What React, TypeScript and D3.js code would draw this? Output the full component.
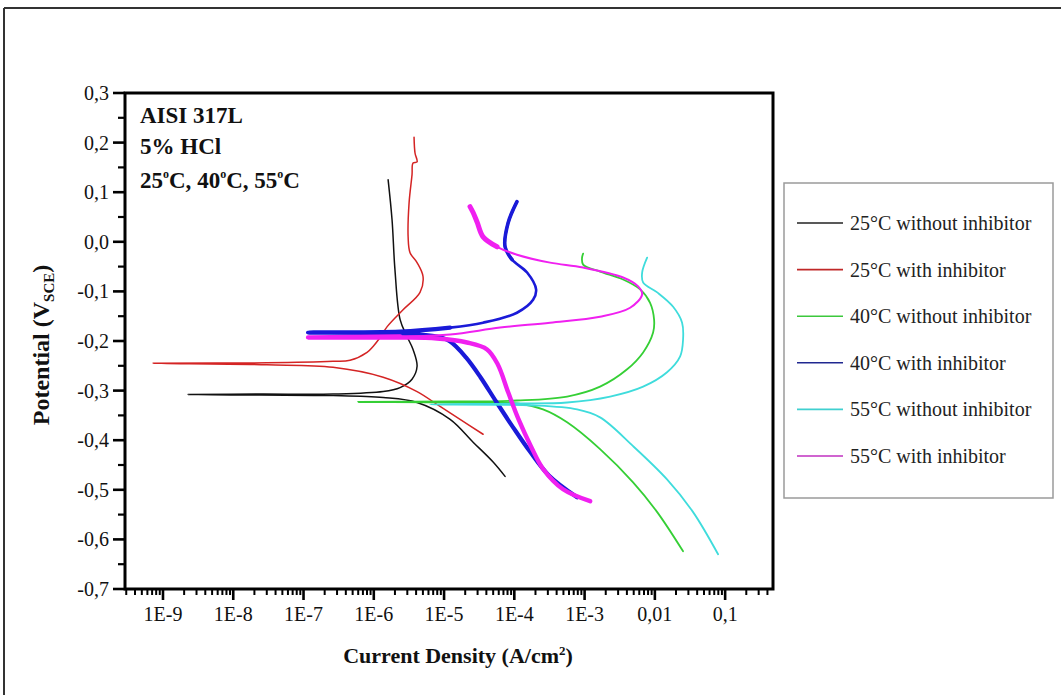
import React from 'react';
import * as d3 from 'd3';

// ---------- axis values ----------
const xDomain: [number, number] = [2.88e-10, 0.48];
const yDomain: [number, number] = [-0.7, 0.3];
const xTickValues = [1e-9, 1e-8, 1e-7, 1e-6, 1e-5, 1e-4, 1e-3, 1e-2, 1e-1];
const xTickLabels = ['1E-9', '1E-8', '1E-7', '1E-6', '1E-5', '1E-4', '1E-3', '0,01', '0,1'];
const yTickValues = [0.3, 0.2, 0.1, 0.0, -0.1, -0.2, -0.3, -0.4, -0.5, -0.6, -0.7];
const yTickLabels = ['0,3', '0,2', '0,1', '0,0', '-0,1', '-0,2', '-0,3', '-0,4', '-0,5', '-0,6', '-0,7'];
const yMinorValues = [0.25, 0.15, 0.05, -0.05, -0.15, -0.25, -0.35, -0.45, -0.55, -0.65];

// ---------- series (current density A/cm2, potential V) ----------
const black25: [number, number][] = [
  [7.38e-5, -0.473], [4.99e-5, -0.444], [2.59e-5, -0.404], [1.22e-5, -0.358], [4.13e-6, -0.324],
  [1.36e-6, -0.314], [2.63e-7, -0.31], [2.4e-8, -0.309], [2.27e-9, -0.308],
  [2.4e-8, -0.307], [2.63e-7, -0.307], [1.36e-6, -0.302], [2.37e-6, -0.294], [3.5e-6, -0.277],
  [4.13e-6, -0.251], [3.62e-6, -0.217], [2.97e-6, -0.191], [2.37e-6, -0.157], [2.0e-6, -0.056],
  [1.82e-6, 0.044], [1.6e-6, 0.125],
];
const red25: [number, number][] = [
  [3.59e-5, -0.388], [1.69e-5, -0.358], [8.77e-6, -0.332], [4.13e-6, -0.302], [1.36e-6, -0.273],
  [2.63e-7, -0.253], [3.02e-8, -0.248], [7.21e-10, -0.245],
  [3.02e-8, -0.244], [2.63e-7, -0.241], [4.59e-7, -0.239], [8.02e-7, -0.223], [9.77e-7, -0.211],
  [1.23e-6, -0.193], [1.55e-6, -0.171], [2.61e-6, -0.137], [4.55e-6, -0.102], [5.02e-6, -0.07],
  [4.13e-6, -0.042], [3.28e-6, -0.022], [3.08e-6, 0.01], [3.18e-6, 0.079], [3.5e-6, 0.135],
  [3.62e-6, 0.159], [4.13e-6, 0.161], [3.86e-6, 0.179], [3.74e-6, 0.211],
];
const green40: [number, number][] = [
  [2.52e-2, -0.624], [1.08e-2, -0.545], [4.9e-3, -0.485], [1.66e-3, -0.418], [5.64e-4, -0.364],
  [2.56e-4, -0.338], [1.09e-4, -0.326], [1.22e-5, -0.324], [5.97e-7, -0.323],
  [1.22e-5, -0.322], [1.09e-4, -0.32], [5.64e-4, -0.312], [1.66e-3, -0.292], [4.03e-3, -0.257],
  [6.81e-3, -0.223], [9.44e-3, -0.183], [9.75e-3, -0.157], [8.55e-3, -0.123], [6.17e-3, -0.096],
  [3.53e-3, -0.076], [1.66e-3, -0.06], [9.53e-4, -0.046], [9.2e-4, -0.032], [9.53e-4, -0.024],
];
const blue40: [number, number][] = [
  [7.82e-4, -0.515], [3.1e-4, -0.471], [1.65e-4, -0.422], [9.6e-5, -0.374], [5.5e-5, -0.322],
  [3.3e-5, -0.273], [2.05e-5, -0.233], [1.22e-5, -0.201], [7.94e-6, -0.191], [2.37e-6, -0.185],
  [1.16e-7, -0.183],
  [2.37e-6, -0.181], [1.22e-5, -0.173], [3.59e-5, -0.163], [1.09e-4, -0.143], [1.85e-4, -0.117],
  [2.04e-4, -0.096], [1.52e-4, -0.062], [9.29e-5, -0.036], [7.38e-5, -0.01], [8.15e-5, 0.038],
  [1.09e-4, 0.081],
];
const cyan55: [number, number][] = [
  [7.94e-2, -0.63], [3.5e-2, -0.545], [1.49e-2, -0.479], [4.9e-3, -0.412], [1.66e-3, -0.354],
  [7.82e-4, -0.338], [1.85e-4, -0.33], [6.32e-6, -0.328],
  [1.09e-4, -0.326], [5.64e-4, -0.324], [2.31e-3, -0.312], [6.81e-3, -0.292], [1.49e-2, -0.263],
  [2.29e-2, -0.231], [2.52e-2, -0.197], [2.44e-2, -0.163], [1.82e-2, -0.131], [1.08e-2, -0.102],
  [6.81e-3, -0.082], [6.59e-3, -0.062], [7.76e-3, -0.032],
];
const magenta55: [number, number][] = [
  [1.2e-3, -0.523], [4.94e-4, -0.499], [2.6e-4, -0.459], [1.72e-4, -0.412], [1.15e-4, -0.358],
  [8.2e-5, -0.304], [5.8e-5, -0.247], [4.09e-5, -0.217], [2.12e-5, -0.203], [7.94e-6, -0.195],
  [2.37e-6, -0.193], [1.16e-7, -0.193],
  [2.37e-6, -0.191], [1.22e-5, -0.187], [6.27e-5, -0.173], [3.23e-4, -0.163], [1.66e-3, -0.151],
  [4.45e-3, -0.133], [6.59e-3, -0.106], [5.78e-3, -0.09], [3.53e-3, -0.072], [9.53e-4, -0.052],
  [3.23e-4, -0.042], [1.09e-4, -0.026], [5.68e-5, -0.01], [3.59e-5, 0.01], [2.95e-5, 0.04],
  [2.59e-5, 0.059], [2.34e-5, 0.071],
];

const seriesNames = [
  '25°C without inhibitor', '25°C with inhibitor', '40°C without inhibitor',
  '40°C with inhibitor', '55°C without inhibitor', '55°C with inhibitor',
];
const seriesData = [black25, red25, green40, blue40, cyan55, magenta55];
const seriesColors = ['#111111', '#d42424', '#35cf35', '#1a1ad8', '#3fdcdc', '#f020f0'];
const seriesWidths = [1.5, 1.5, 1.8, 2.6, 1.8, 2.0];
// noisy (thick-looking) stretches of a scan: [from, to) point index, stroke width
const thickParts: [number, number, number][][] = [
  [], [], [], [[0, 13, 4.2], [18, 22, 3.6]], [], [[0, 13, 4.4], [24, 29, 5]],
];
const legendColors = ['#222222', '#c02828', '#3cc83c', '#202890', '#40d0d0', '#c030c0'];

const annotation = ['AISI 317L', '5% HCl'];
const tempLabels = ['25', '40', '55'];

const FONT = '"Liberation Serif", "Times New Roman", serif';

export default function App() {
  const W = 1061, H = 695;
  const left = 125, right = 773, top = 93, bottom = 589;
  const x = d3.scaleLog().domain(xDomain).range([left, right]);
  const y = d3.scaleLinear().domain(yDomain).range([bottom, top]);

  const xMinor: number[] = [];
  for (let d = -10; d <= 0; d++) {
    for (let k = 2; k <= 9; k++) {
      const v = k * Math.pow(10, d);
      if (v > xDomain[0] && v < xDomain[1]) xMinor.push(v);
    }
  }

  const line = d3.line<[number, number]>()
    .x(d => x(d[0]))
    .y(d => y(d[1]))
    .curve(d3.curveCatmullRom.alpha(0.5));

  const legendX = 784, legendY = 183, legendW = 269, legendH = 315;
  const entryY0 = 223, entryStep = 46.6;

  return (
    <svg width={W} height={H} style={{ position: 'absolute', left: 0, top: 0, background: '#fff' }}
      fontFamily={FONT}>
      <rect x={0} y={0} width={W} height={H} fill="#fff" />
      {/* outer frame (cropped) */}
      <line x1={4} y1={8} x2={W} y2={8} stroke="#333" strokeWidth={2} />
      <line x1={4} y1={8} x2={4} y2={H} stroke="#333" strokeWidth={2} />

      {/* series */}
      {seriesData.map((s, i) => (
        <g key={i}>
          <path d={line(s) || ''} fill="none" stroke={seriesColors[i]}
            strokeWidth={seriesWidths[i]} strokeLinejoin="round" strokeLinecap="round" />
          {thickParts[i].map((p, j) => (
            <path key={j} d={line(s.slice(p[0], p[1])) || ''} fill="none" stroke={seriesColors[i]}
              strokeWidth={p[2]} strokeLinejoin="round" strokeLinecap="round" />
          ))}
        </g>
      ))}

      {/* plot frame */}
      <rect x={left} y={top} width={right - left} height={bottom - top} fill="none" stroke="#000" strokeWidth={3} />

      {/* y ticks */}
      {yTickValues.map((v, i) => (
        <g key={'yt' + i}>
          <line x1={left - 12} x2={left} y1={y(v)} y2={y(v)} stroke="#000" strokeWidth={2.6} />
          <text x={109} y={y(v) + 7} textAnchor="end" fontSize={20} fill="#111">{yTickLabels[i]}</text>
        </g>
      ))}
      {yMinorValues.map((v, i) => (
        <line key={'ym' + i} x1={left - 7} x2={left} y1={y(v)} y2={y(v)} stroke="#000" strokeWidth={2.2} />
      ))}

      {/* x ticks */}
      {xTickValues.map((v, i) => (
        <g key={'xt' + i}>
          <line x1={x(v)} x2={x(v)} y1={bottom} y2={bottom + 11} stroke="#000" strokeWidth={2.6} />
          <text x={x(v)} y={621} textAnchor="middle" fontSize={20} fill="#111">{xTickLabels[i]}</text>
        </g>
      ))}
      {xMinor.map((v, i) => (
        <line key={'xm' + i} x1={x(v)} x2={x(v)} y1={bottom} y2={bottom + 6} stroke="#000" strokeWidth={2} />
      ))}

      {/* axis titles */}
      <text x={458} y={663} textAnchor="middle" fontSize={22} fontWeight="bold" fill="#111">
        Current Density (A/cm<tspan dy={-8} fontSize={13}>2</tspan><tspan dy={8}>)</tspan>
      </text>
      <text transform="translate(49,345) rotate(-90)" textAnchor="middle" fontSize={24} fontWeight="bold" fill="#111">
        Potential (V<tspan dy={5} fontSize={15}>SCE</tspan><tspan dy={-5}>)</tspan>
      </text>

      {/* annotation */}
      {annotation.map((t, i) => (
        <text key={'an' + i} x={140} y={123 + i * 31} fontSize={23} fontWeight="bold" fill="#111">{t}</text>
      ))}
      <text x={140} y={188} fontSize={23} fontWeight="bold" fill="#111">
        {tempLabels.map((t, i) => (
          <React.Fragment key={'tl' + i}>
            <tspan>{t}</tspan>
            <tspan dy={-10} fontSize={12}>o</tspan>
            <tspan dy={10}>{i < tempLabels.length - 1 ? 'C, ' : 'C'}</tspan>
          </React.Fragment>
        ))}
      </text>

      {/* legend */}
      <rect x={legendX} y={legendY} width={legendW} height={legendH} fill="#fff" stroke="#9a9a9a" strokeWidth={1.5} />
      {seriesNames.map((n, i) => {
        const ly = entryY0 + i * entryStep;
        return (
          <g key={'lg' + i}>
            <line x1={797} x2={843} y1={ly} y2={ly} stroke={legendColors[i]} strokeWidth={1.6} />
            <text x={850} y={ly + 7} fontSize={20} fill="#222">{n}</text>
          </g>
        );
      })}
    </svg>
  );
}
